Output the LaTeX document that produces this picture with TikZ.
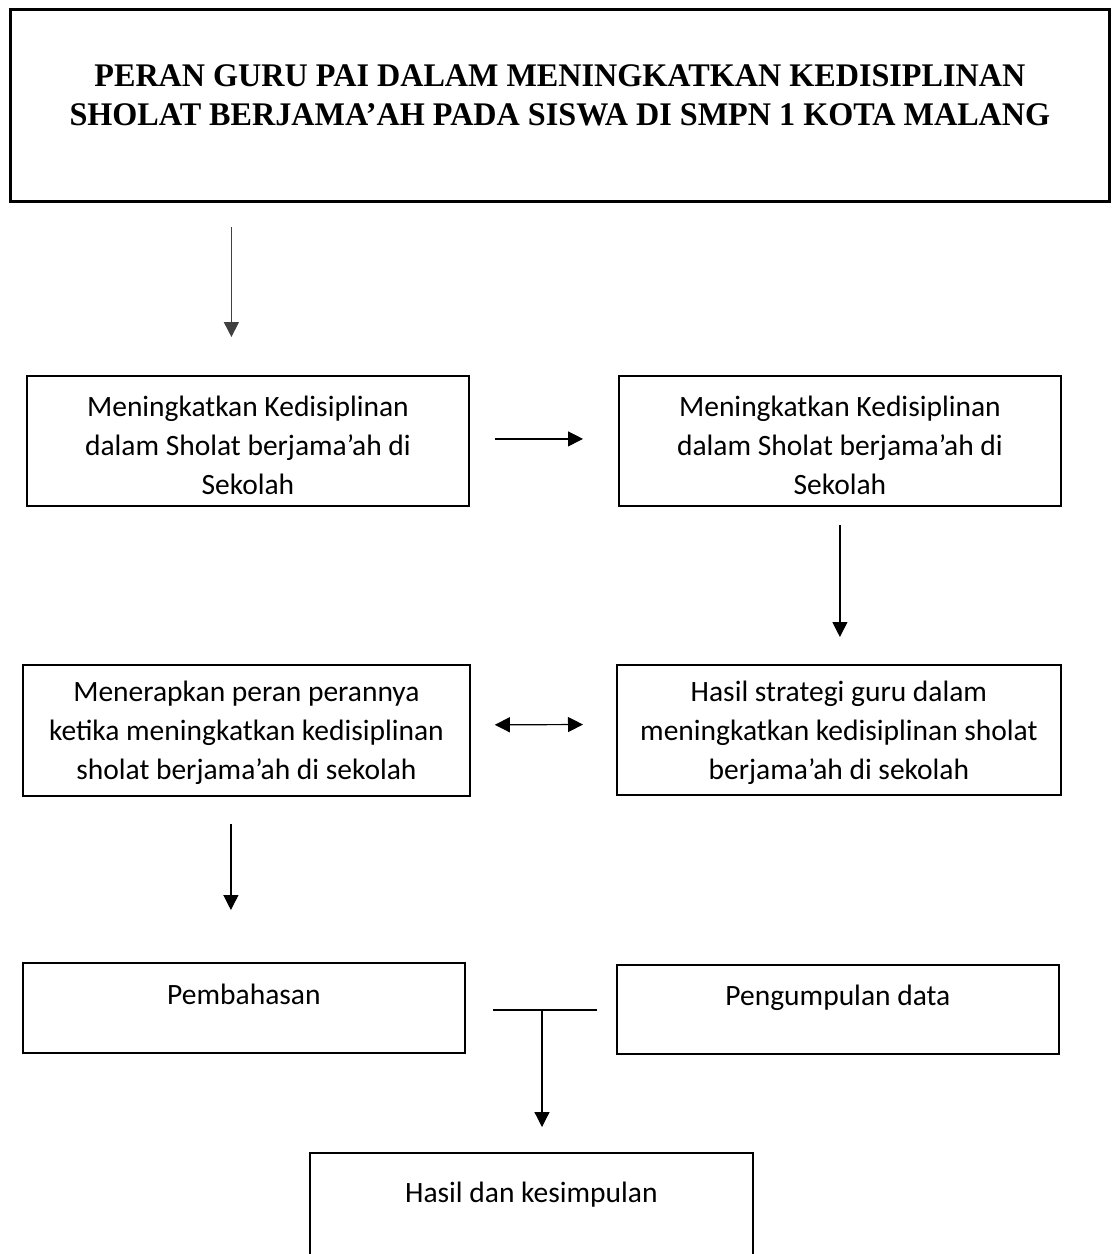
\documentclass[tikz,border=0pt]{standalone}
\usepackage{fontspec}
\setmainfont{Carlito}
\newfontfamily\judulfont[FakeStretch=0.975]{Liberation Serif}
\usetikzlibrary{arrows.meta,positioning}
\tikzset{
  titlebox/.style={draw, line width=2.8pt, minimum width=1099pt, minimum height=192pt,
    align=center, inner sep=0pt, text depth=21pt,
    font=\judulfont\bfseries\fontsize{33}{39}\selectfont},
  stepbox/.style={draw, line width=1.8pt, minimum width=442pt, align=center,
    inner sep=0pt, font=\fontsize{29.5}{39}\selectfont},
  flow/.style={-{Triangle[length=15pt,width=15pt]}, line width=1.2pt},
  dualflow/.style={{Triangle[length=15pt,width=15pt]}-{Triangle[length=15pt,width=15pt]}, line width=1.2pt},
  branch/.style={line width=1.2pt}
}

\begin{document}
\begin{tikzpicture}[x=1pt,y=-1pt]
\useasboundingbox (0,0) rectangle (1112,1254);

\node[titlebox, anchor=north west] (judul) at (9,8)
  {PERAN GURU PAI DALAM MENINGKATKAN KEDISIPLINAN\\SHOLAT BERJAMA’AH PADA SISWA DI SMPN 1 KOTA MALANG};

% baris pertama
\node[stepbox, text height=119pt, text depth=11pt, anchor=north west] (disiplin) at (26,375)
  {Meningkatkan Kedisiplinan\\dalam Sholat berjama’ah di\\Sekolah};
\node[stepbox, text height=119pt, text depth=11pt, anchor=north west] (lanjut) at (618,375)
  {Meningkatkan Kedisiplinan\\dalam Sholat berjama’ah di\\Sekolah};

% baris kedua
\node[stepbox, minimum width=447pt, text height=115pt, text depth=16pt, anchor=north west] (peran) at (22,664)
  {Menerapkan peran perannya\\ketika meningkatkan kedisiplinan\\sholat berjama’ah di sekolah};
\node[stepbox, minimum width=444pt, text height=115pt, text depth=15pt, anchor=north west] (hasil) at (616,664)
  {Hasil strategi guru dalam\\meningkatkan kedisiplinan sholat\\berjama’ah di sekolah};

% baris ketiga
\node[stepbox, text height=41.5pt, text depth=48.5pt, anchor=north west] (bahasan) at (22,962)
  {Pembahasan};
\node[stepbox, text height=41pt, text depth=48pt, anchor=north west] (data) at (616,964)
  {Pengumpulan data};
\node[stepbox, minimum width=443pt, text height=49.5pt, text depth=70pt, anchor=north west] (simpulan) at (309,1152)
  {Hasil dan kesimpulan};

\coordinate (cabang) at (542,1010);

\draw[flow, draw=black!75, line width=1.6pt, shorten <=24pt, shorten >=38pt]
  ([xshift=-16.5pt]disiplin.north |- judul.south) -- ([xshift=-16.5pt]disiplin.north);
\draw[flow, shorten <=25pt, shorten >=35pt] ([yshift=2pt]disiplin.east) -- ([yshift=2pt]lanjut.west);
\draw[flow, shorten <=18pt, shorten >=27pt] (lanjut.south) -- (hasil.north -| lanjut.south);
\draw[dualflow, shorten <=24pt, shorten >=33pt] ([yshift=5.5pt]peran.east) -- ([yshift=5.5pt]hasil.west);
\draw[flow, shorten <=27pt, shorten >=52pt] ([xshift=-15.5pt]peran.south) -- ([xshift=-15.5pt]peran.south |- bahasan.north);
\draw[branch, shorten <=27pt, shorten >=19pt] (bahasan.east |- cabang) -- (data.west |- cabang);
\draw[flow, shorten >=25pt] (cabang) -- (simpulan.north -| cabang);
\end{tikzpicture}
\end{document}
